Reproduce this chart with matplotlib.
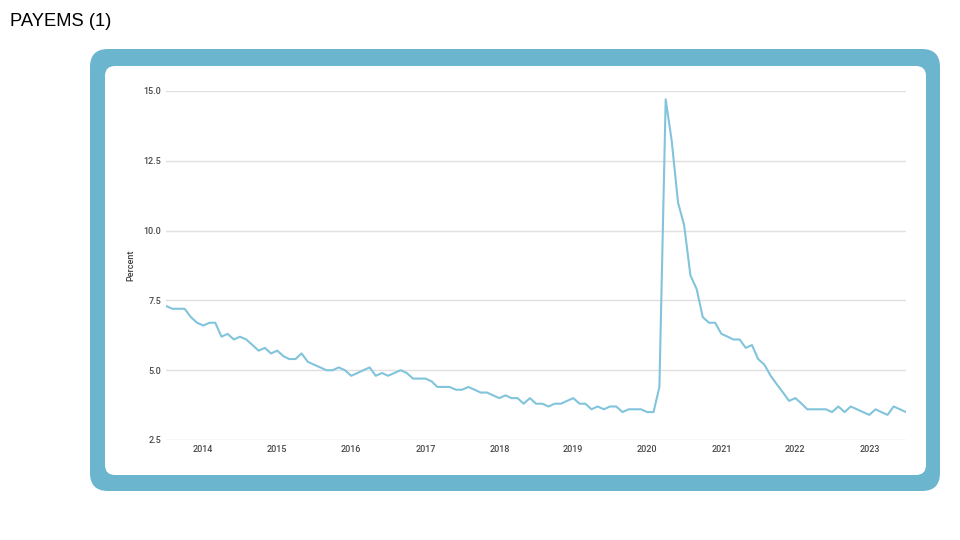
import pandas as pd
import matplotlib
matplotlib.use('Agg')
import matplotlib.pyplot as plt
import matplotlib.dates as mdates
from matplotlib.patches import FancyBboxPatch
from matplotlib.transforms import IdentityTransform

# monthly unemployment rate, Jul 2013 .. Jul 2023
rate = [
    7.3, 7.2, 7.2, 7.2, 6.9, 6.7,
    6.6, 6.7, 6.7, 6.2, 6.3, 6.1, 6.2, 6.1, 5.9, 5.7, 5.8, 5.6,
    5.7, 5.5, 5.4, 5.4, 5.6, 5.3, 5.2, 5.1, 5.0, 5.0, 5.1, 5.0,
    4.8, 4.9, 5.0, 5.1, 4.8, 4.9, 4.8, 4.9, 5.0, 4.9, 4.7, 4.7,
    4.7, 4.6, 4.4, 4.4, 4.4, 4.3, 4.3, 4.4, 4.3, 4.2, 4.2, 4.1,
    4.0, 4.1, 4.0, 4.0, 3.8, 4.0, 3.8, 3.8, 3.7, 3.8, 3.8, 3.9,
    4.0, 3.8, 3.8, 3.6, 3.7, 3.6, 3.7, 3.7, 3.5, 3.6, 3.6, 3.6,
    3.5, 3.5, 4.4, 14.7, 13.2, 11.0, 10.2, 8.4, 7.9, 6.9, 6.7, 6.7,
    6.3, 6.2, 6.1, 6.1, 5.8, 5.9, 5.4, 5.2, 4.8, 4.5, 4.2, 3.9,
    4.0, 3.8, 3.6, 3.6, 3.6, 3.6, 3.5, 3.7, 3.5, 3.7, 3.6, 3.5,
    3.4, 3.6, 3.5, 3.4, 3.7, 3.6, 3.5,
]
dates = pd.date_range('2013-07-01', periods=len(rate), freq='MS')
y_ticks = [2.5, 5.0, 7.5, 10.0, 12.5, 15.0]

plt.rcParams['font.family'] = ['Roboto', 'DejaVu Sans']

fig = plt.figure(figsize=(9.6, 5.4), dpi=100)
W, H = 960, 540

# outer blue frame and inner white card (pixel coords)
outer = FancyBboxPatch((90, H - 491), 850, 442,
                       boxstyle='round,pad=0,rounding_size=18',
                       transform=IdentityTransform(), facecolor='#6bb5cf',
                       edgecolor='none', zorder=0)
inner = FancyBboxPatch((105, H - 475), 821, 409,
                       boxstyle='round,pad=0,rounding_size=10',
                       transform=IdentityTransform(), facecolor='white',
                       edgecolor='none', zorder=1)
fig.patches.extend([outer, inner])

fig.text(10 / W, 1 - 21 / H, 'PAYEMS (1)', fontsize=13.2,
         family=['Liberation Sans', 'DejaVu Sans'], va='center', ha='left')

ax = fig.add_axes([166 / W, 1 - 440 / H, 740 / W, 349 / H])
ax.set_zorder(3)
ax.patch.set_alpha(0)
ax.plot(dates, rate, color='#82c4dc', lw=1.5, zorder=3)

ax.set_xlim(pd.Timestamp('2013-07-01'), pd.Timestamp('2023-07-01'))
ax.set_ylim(2.5, 15.0)
ax.set_yticks(y_ticks)
ax.set_yticklabels([f'{v:.1f}' for v in y_ticks])
ax.xaxis.set_major_locator(mdates.YearLocator())
ax.xaxis.set_major_formatter(mdates.DateFormatter('%Y'))

ax.grid(axis='y', color='#e0e0e0', lw=1)
ax.set_axisbelow(True)
for s in ax.spines.values():
    s.set_visible(False)
ax.tick_params(length=0, labelsize=6.5, labelcolor='#484848')
for lbl in ax.get_xticklabels() + ax.get_yticklabels():
    lbl.set_fontweight('medium')
ax.tick_params(axis='y', pad=3.5)
ax.tick_params(axis='x', pad=3.5)
ax.set_ylabel('Percent', fontsize=6.5, color='#404040', labelpad=6,
              fontweight='medium')

fig.savefig('out.png', dpi=100)
